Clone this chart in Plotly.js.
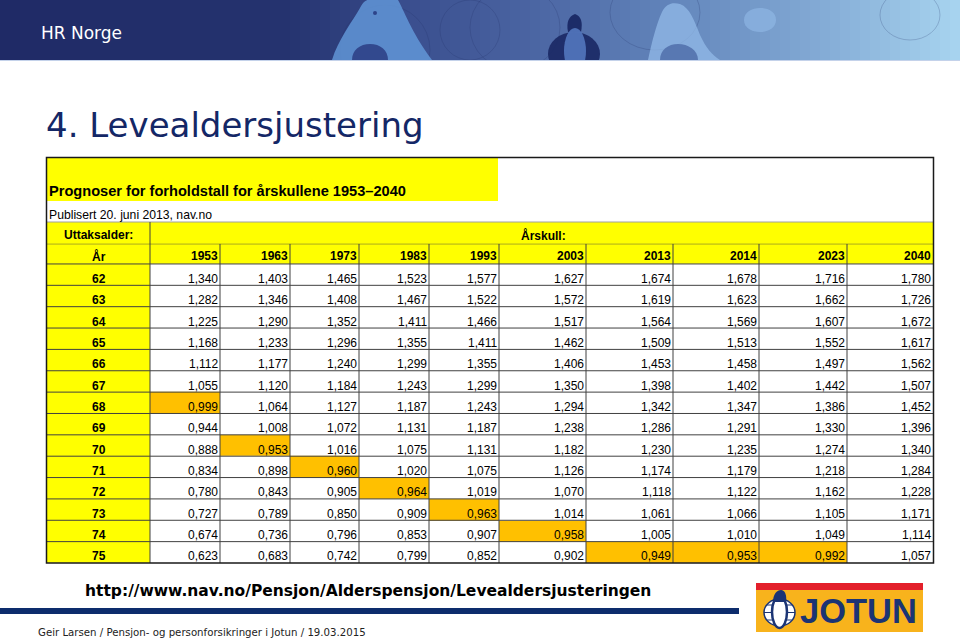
<!DOCTYPE html>
<html>
<head>
<meta charset="utf-8">
<script src="https://cdn.plot.ly/plotly-3.0.1.min.js"></script>
<style>html,body{margin:0;padding:0;background:#fff;}#chart{width:960px;height:638px;}</style>
</head>
<body>
<div id="chart"></div>
<script>
// ---- DATA ----
const ages = [62, 63, 64, 65, 66, 67, 68, 69, 70, 71, 72, 73, 74, 75];
const cohorts = ['1953', '1963', '1973', '1983', '1993', '2003', '2013', '2014', '2023', '2040'];
const v1953 = [1.340, 1.282, 1.225, 1.168, 1.112, 1.055, 0.999, 0.944, 0.888, 0.834, 0.780, 0.727, 0.674, 0.623];
const v1963 = [1.403, 1.346, 1.290, 1.233, 1.177, 1.120, 1.064, 1.008, 0.953, 0.898, 0.843, 0.789, 0.736, 0.683];
const v1973 = [1.465, 1.408, 1.352, 1.296, 1.240, 1.184, 1.127, 1.072, 1.016, 0.960, 0.905, 0.850, 0.796, 0.742];
const v1983 = [1.523, 1.467, 1.411, 1.355, 1.299, 1.243, 1.187, 1.131, 1.075, 1.020, 0.964, 0.909, 0.853, 0.799];
const v1993 = [1.577, 1.522, 1.466, 1.411, 1.355, 1.299, 1.243, 1.187, 1.131, 1.075, 1.019, 0.963, 0.907, 0.852];
const v2003 = [1.627, 1.572, 1.517, 1.462, 1.406, 1.350, 1.294, 1.238, 1.182, 1.126, 1.070, 1.014, 0.958, 0.902];
const v2013 = [1.674, 1.619, 1.564, 1.509, 1.453, 1.398, 1.342, 1.286, 1.230, 1.174, 1.118, 1.061, 1.005, 0.949];
const v2014 = [1.678, 1.623, 1.569, 1.513, 1.458, 1.402, 1.347, 1.291, 1.235, 1.179, 1.122, 1.066, 1.010, 0.953];
const v2023 = [1.716, 1.662, 1.607, 1.552, 1.497, 1.442, 1.386, 1.330, 1.274, 1.218, 1.162, 1.105, 1.049, 0.992];
const v2040 = [1.780, 1.726, 1.672, 1.617, 1.562, 1.507, 1.452, 1.396, 1.340, 1.284, 1.228, 1.171, 1.114, 1.057];

const slideTitle = '4. Levealdersjustering';
const tableTitle = 'Prognoser for forholdstall for årskullene 1953–2040';
const published = 'Publisert 20. juni 2013, nav.no';
const ageHeader = 'År';
const rowGroupLabel = 'Uttaksalder:';
const colGroupLabel = 'Årskull:';
const url = 'http://www.nav.no/Pensjon/Alderspensjon/Levealdersjusteringen';
const footer = 'Geir Larsen / Pensjon- og personforsikringer i Jotun / 19.03.2015';

// ---- LAYOUT / STYLE ----
const W = 960, H = 638;
const YELLOW = '#ffff00', ORANGE = '#ffc000', GRID = '#404040';
const FONT_TBL = 'Liberation Sans, Arial, sans-serif';
const FONT_V = 'DejaVu Sans, Verdana, sans-serif';
const series = [v1953, v1963, v1973, v1983, v1993, v2003, v2013, v2014, v2023, v2040];
const fmt = v => v.toFixed(3).replace('.', ',');

// table geometry (px units on axis x2/y2)
const colWidths = [103, 70, 70, 69, 70, 70, 87, 87, 86, 88, 86];
const headH = 20.2, rowH = 21.36;
const tblLeft = 47, tblBottom = 563;
const xEdges = [0];
colWidths.forEach(w => xEdges.push(xEdges[xEdges.length - 1] + w));
const yEdges = [0, headH];
ages.forEach(() => yEdges.push(yEdges[yEdges.length - 1] + rowH));
const totW = xEdges[xEdges.length - 1], totH = yEdges[yEdges.length - 1];

// fill codes: 0 white, 1 yellow, 2 orange (first age where ratio < 1)
const firstBelow = series.map(s => s.findIndex(v => v < 1));
const z = [colWidths.map(() => 1)];
ages.forEach((a, r) => {
  z.push([1].concat(series.map((s, c) => firstBelow[c] === r ? 2 : 0)));
});
const heat = {
  type: 'heatmap', xaxis: 'x2', yaxis: 'y2',
  x: xEdges, y: yEdges, z: z, zmin: 0, zmax: 2,
  colorscale: [[0, '#ffffff'], [0.25, '#ffffff'], [0.25, YELLOW], [0.75, YELLOW], [0.75, ORANGE], [1, ORANGE]],
  showscale: false, hoverinfo: 'skip'
};
const dummy = {type: 'scatter', x: [], y: [], hoverinfo: 'skip', showlegend: false};

const shapes = [];
// header gradient strips
function hex2rgb(h) { return [1, 3, 5].map(i => parseInt(h.substr(i, 2), 16)); }
const stops = [[0, '#1f2a66'], [0.3, '#25336f'], [0.42, '#394d8d'], [0.55, '#4a64a2'], [0.7, '#6285bb'], [0.85, '#82a9d4'], [1, '#a8d4f0']];
function gradColor(t) {
  for (let i = 0; i < stops.length - 1; i++) {
    const [t0, c0] = stops[i], [t1, c1] = stops[i + 1];
    if (t >= t0 && t <= t1) {
      const f = (t - t0) / (t1 - t0), a = hex2rgb(c0), b = hex2rgb(c1);
      return 'rgb(' + a.map((x, k) => Math.round(x + (b[k] - x) * f)).join(',') + ')';
    }
  }
  return stops[stops.length - 1][1];
}
const N = 96;
for (let i = 0; i < N; i++) {
  shapes.push({type: 'rect', xref: 'x', yref: 'y', x0: i * W / N, x1: (i + 1) * W / N + 0.6, y0: 0, y1: 60,
    fillcolor: gradColor((i + 0.5) / N), line: {width: 0}, layer: 'below'});
}
// decorative penguins / globes in the banner
[[440, 0, 500, 60], [340, 5, 430, 95], [470, -15, 560, 70], [610, -25, 700, 50], [880, -10, 940, 40]].forEach(c =>
  shapes.push({type: 'circle', xref: 'x', yref: 'y', x0: c[0], y0: c[1], x1: c[2], y1: c[3], line: {color: 'rgba(30,45,100,0.22)', width: 1}, layer: 'below'}));
const deco = [
  {p: 'M332,60 C338,40 352,22 360,8 C363,2 366,0 368,0 L398,0 C404,10 410,30 432,60 Z', c: 'rgba(100,155,220,0.8)'},
  {p: 'M352,60 C352,50 360,44 370,44 C380,44 388,50 388,60 Z', c: 'rgba(45,65,135,0.9)'},
  {p: 'M648,60 C652,42 656,25 662,12 C666,4 672,2 680,4 C690,8 694,20 700,35 C706,48 712,55 720,60 Z', c: 'rgba(150,190,235,0.7)'},
  {p: 'M660,60 C660,50 668,44 678,44 C688,44 698,50 698,60 Z', c: 'rgba(80,110,170,0.85)'},
  {p: 'M568,32 C566,22 569,16 575,14 C581,16 583,22 581,32 Z', c: 'rgba(25,40,100,0.95)'},
  {p: 'M744,20 C744,12 752,8 760,8 C768,8 776,12 776,20 C776,28 768,32 760,32 C752,32 744,28 744,20 Z', c: 'rgba(150,190,235,0.55)'}
];
deco.forEach(d => shapes.push({type: 'path', xref: 'x', yref: 'y', path: d.p, fillcolor: d.c, line: {width: 0}, layer: 'below'}));
shapes.push({type: 'circle', xref: 'x', yref: 'y', x0: 548, x1: 600, y0: 32, y1: 76, fillcolor: 'rgba(25,40,100,0.9)', line: {width: 0}, layer: 'below'});
shapes.push({type: 'circle', xref: 'x', yref: 'y', x0: 564, x1: 586, y0: 28, y1: 74, fillcolor: 'rgba(80,115,185,0.95)', line: {width: 0}, layer: 'below'});
shapes.push({type: 'circle', xref: 'x', yref: 'y', x0: 373, x1: 377, y0: 11, y1: 15, fillcolor: 'rgba(40,60,130,0.9)', line: {width: 0}, layer: 'below'});
// cover anything below banner
shapes.push({type: 'rect', xref: 'x', yref: 'y', x0: 0, x1: W, y0: 60, y1: 100, fillcolor: '#ffffff', line: {width: 0}, layer: 'below'});
shapes.push({type: 'line', xref: 'x', yref: 'y', x0: 0, x1: W, y0: 60.5, y1: 60.5, line: {color: '#c4d2ea', width: 1}, layer: 'below'});

// table title band + group header row
shapes.push({type: 'rect', xref: 'x', yref: 'y', x0: tblLeft, x1: 498, y0: 158, y1: 201, fillcolor: YELLOW, line: {width: 0}, layer: 'below'});
shapes.push({type: 'rect', xref: 'x', yref: 'y', x0: tblLeft, x1: tblLeft + totW, y0: 222, y1: 244, fillcolor: YELLOW, line: {width: 0}, layer: 'below'});
shapes.push({type: 'line', xref: 'x', yref: 'y', x0: tblLeft, x1: tblLeft + totW, y0: 222, y1: 222, line: {color: '#a0a0a0', width: 1}});
shapes.push({type: 'line', xref: 'x', yref: 'y', x0: tblLeft + colWidths[0], x1: tblLeft + colWidths[0], y0: 222, y1: 244, line: {color: GRID, width: 1}});

// table grid lines
xEdges.slice(1, -1).forEach(x => shapes.push({type: 'line', xref: 'x2', yref: 'y2', x0: x, x1: x, y0: 0, y1: totH, line: {color: GRID, width: 1}}));
yEdges.slice(0, -1).forEach(y => shapes.push({type: 'line', xref: 'x2', yref: 'y2', x0: 0, x1: totW, y0: y, y1: y, line: {color: GRID, width: 1}}));
// outer border
shapes.push({type: 'rect', xref: 'x', yref: 'y', x0: 46.5, x1: tblLeft + totW + 0.5, y0: 157.5, y1: tblBottom, line: {color: '#1a1a1a', width: 1.5}});
// footer line
shapes.push({type: 'rect', xref: 'x', yref: 'y', x0: 0, x1: 739, y0: 608, y1: 614, fillcolor: '#0d2c6c', line: {width: 0}});
// JOTUN logo
shapes.push({type: 'rect', xref: 'x', yref: 'y', x0: 756, x1: 923, y0: 583, y1: 590, fillcolor: '#e3202a', line: {width: 0}});
shapes.push({type: 'rect', xref: 'x', yref: 'y', x0: 756, x1: 923, y0: 590, y1: 632, fillcolor: '#f8b31c', line: {width: 0}});
shapes.push({type: 'circle', xref: 'x', yref: 'y', x0: 764, x1: 795, y0: 599, y1: 626, fillcolor: '#ffffff', line: {color: '#1b3474', width: 1.5}});
shapes.push({type: 'line', xref: 'x', yref: 'y', x0: 764, x1: 795, y0: 612.5, y1: 612.5, line: {color: '#1b3474', width: 1}});
shapes.push({type: 'line', xref: 'x', yref: 'y', x0: 767, x1: 792, y0: 605, y1: 605, line: {color: '#1b3474', width: 1}});
shapes.push({type: 'line', xref: 'x', yref: 'y', x0: 767, x1: 792, y0: 620, y1: 620, line: {color: '#1b3474', width: 1}});
shapes.push({type: 'circle', xref: 'x', yref: 'y', x0: 772, x1: 787, y0: 596, y1: 628, fillcolor: '#ffffff', line: {color: '#1b3474', width: 2.5}});
shapes.push({type: 'path', xref: 'x', yref: 'y', path: 'M773,602 C773,594 777,590 781,590 C785,590 787,595 786,602 Z', fillcolor: '#1b3474', line: {width: 0}});

const ann = (text, x, y, opts) => Object.assign({xref: 'x', yref: 'y', x: x, y: y, text: text, showarrow: false,
  xanchor: 'left', yanchor: 'middle'}, opts);
const annotations = [
  ann('HR Norge', 39, 33, {font: {family: FONT_V, size: 17, color: '#ffffff'}}),
  ann(slideTitle, 44, 125, {font: {family: FONT_V, size: 34, color: '#142766'}}),
  ann('<b>' + tableTitle + '</b>', 47, 191, {font: {family: FONT_TBL, size: 14.6, color: '#000'}}),
  ann(published, 47, 214.5, {font: {family: FONT_TBL, size: 12.2, color: '#000'}}),
  ann('<b>' + rowGroupLabel + '</b>', tblLeft + colWidths[0] / 2, 235, {xanchor: 'center', font: {family: FONT_TBL, size: 12, color: '#000'}}),
  ann('<b>' + colGroupLabel + '</b>', 519, 235, {font: {family: FONT_TBL, size: 12, color: '#000'}}),
  ann('<b>' + url + '</b>', 83, 591, {font: {family: FONT_V, size: 15.5, color: '#000'}}),
  ann(footer, 36, 632, {font: {family: FONT_V, size: 10.2, color: '#222'}}),
  ann('<b>JOTUN</b>', 798, 611, {font: {family: FONT_TBL, size: 34.5, color: '#1b3474'}})
];
// table text through axis x2/y2
const cellFont = {family: FONT_TBL, size: 12, color: '#000'};
const tAnn = (text, x, y, xanchor) => ({xref: 'x2', yref: 'y2', x: x, y: y, text: text, showarrow: false,
  xanchor: xanchor, yanchor: 'middle', font: cellFont});
const textY = r => yEdges[r + 1] - 6.5;
annotations.push(tAnn('<b>' + ageHeader + '</b>', colWidths[0] / 2, yEdges[1] - 7.5, 'center'));
cohorts.forEach((c, j) => annotations.push(tAnn('<b>' + c + '</b>', xEdges[j + 2], yEdges[1] - 7.5, 'right')));
ages.forEach((a, r) => {
  annotations.push(tAnn('<b>' + a + '</b>', colWidths[0] / 2, textY(r + 1), 'center'));
  series.forEach((s, j) => annotations.push(tAnn(fmt(s[r]), xEdges[j + 2], textY(r + 1), 'right')));
});

const layout = {
  width: W, height: H,
  margin: {l: 0, r: 0, t: 0, b: 0, pad: 0},
  paper_bgcolor: '#ffffff', plot_bgcolor: 'rgba(0,0,0,0)',
  showlegend: false,
  xaxis: {range: [0, W], visible: false, fixedrange: true, domain: [0, 1]},
  yaxis: {range: [H, 0], visible: false, fixedrange: true, domain: [0, 1]},
  xaxis2: {range: [0, totW], visible: false, fixedrange: true, anchor: 'y2',
    domain: [tblLeft / W, (tblLeft + totW) / W]},
  yaxis2: {range: [totH, 0], visible: false, fixedrange: true, anchor: 'x2',
    domain: [(H - tblBottom) / H, (H - tblBottom + totH) / H]},
  shapes: shapes,
  annotations: annotations
};
Plotly.newPlot('chart', [dummy, heat], layout, {staticPlot: true, displayModeBar: false});
</script>
</body>
</html>
